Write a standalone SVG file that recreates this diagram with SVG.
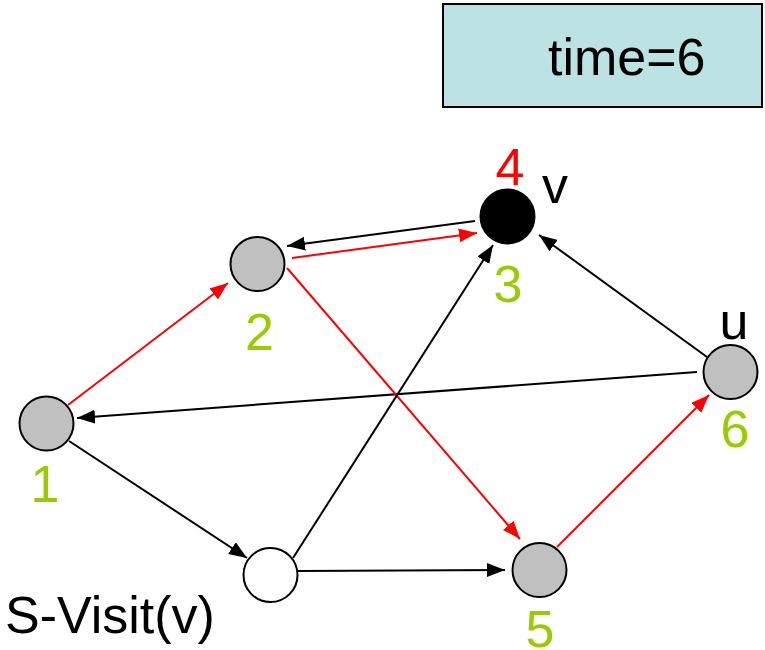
<svg xmlns="http://www.w3.org/2000/svg" width="765" height="650" viewBox="0 0 765 650">
<style>
text{font-family:"Liberation Sans",Arial,sans-serif;font-size:52px}
.g{fill:#99CC00}
.r{fill:#FF0000}
.k{fill:#000}
.node{stroke:#000;stroke-width:2}
.e{stroke-width:2;fill:none}
.eb{stroke:#000;marker-end:url(#ab)}
.er{stroke:#FF0000;marker-end:url(#ar)}
</style>
<defs>
<marker id="ab" markerUnits="userSpaceOnUse" markerWidth="19" markerHeight="15" refX="18" refY="7" orient="auto"><path d="M0,0 L18,7 L0,14 z" fill="#000"/></marker>
<marker id="ar" markerUnits="userSpaceOnUse" markerWidth="19" markerHeight="15" refX="18" refY="7" orient="auto"><path d="M0,0 L18,7 L0,14 z" fill="#FF0000"/></marker>
</defs>
<g id="timebox">
<rect x="443" y="4" width="319" height="103" fill="#BCE2E4" stroke="#000" stroke-width="2"/>
<text x="548" y="75" class="k">time=6</text>
</g>
<g id="connectors">
<line class="e er" x1="68" y1="405" x2="228" y2="283"/>
<line class="e eb" x1="697" y1="372" x2="77" y2="418"/>
<line class="e eb" x1="69" y1="441" x2="247" y2="558"/>
<line class="e er" x1="292" y1="258" x2="477" y2="233"/>
<line class="e eb" x1="475" y1="221" x2="287" y2="246"/>
<line class="e er" x1="287" y1="268" x2="520" y2="539"/>
<line class="e eb" x1="293" y1="558" x2="493" y2="245"/>
<line class="e eb" x1="298" y1="571" x2="505" y2="570"/>
<line class="e er" x1="557" y1="547" x2="709" y2="395"/>
<line class="e eb" x1="707" y1="357" x2="539" y2="235"/>
</g>
<g id="n1"><circle class="node" cx="46.5" cy="423.5" r="27" fill="#C0C0C0"/><text x="45" y="502" text-anchor="middle" class="g">1</text></g>
<g id="n2"><circle class="node" cx="257.5" cy="264" r="27" fill="#C0C0C0"/><text x="259.5" y="350" text-anchor="middle" class="g">2</text></g>
<g id="n3"><circle class="node" cx="507.5" cy="216.5" r="27" fill="#000"/><text x="508" y="302" text-anchor="middle" class="g">3</text><text x="510" y="185" text-anchor="middle" class="r">4</text><text x="555" y="203" text-anchor="middle" class="k">v</text></g>
<g id="nw"><circle class="node" cx="270.5" cy="575" r="27" fill="#FFF"/><text x="5" y="633" class="k">S-Visit(v)</text></g>
<g id="n5"><circle class="node" cx="539.5" cy="570" r="27" fill="#C0C0C0"/><text x="540" y="647" text-anchor="middle" class="g">5</text></g>
<g id="n6"><circle class="node" cx="730.5" cy="372" r="27" fill="#C0C0C0"/><text x="735" y="447" text-anchor="middle" class="g">6</text><text x="734" y="339" text-anchor="middle" class="k">u</text></g>
</svg>
